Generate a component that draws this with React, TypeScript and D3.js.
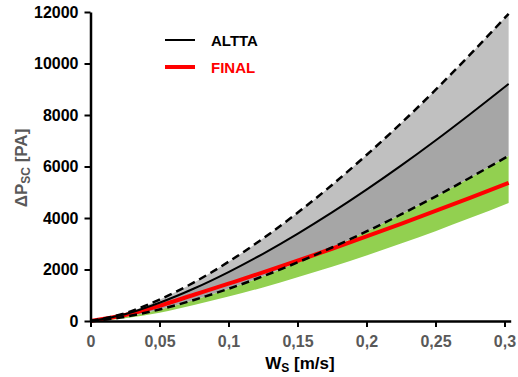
import { useEffect, useRef } from 'react';
import * as d3 from 'd3';

// superficial velocity [m/s]
const ws = [0, 0.025, 0.05, 0.075, 0.1, 0.125, 0.15, 0.175, 0.2, 0.225, 0.25, 0.275, 0.303];

// ALTTA band (upper dashed, mean, lower dashed) [PA]
const alttaUpper = [0, 300, 830, 1500, 2300, 3204, 4202, 5283, 6447, 7675, 8975, 10341, 11930];
const alttaMean = [0, 264, 708, 1261, 1900, 2611, 3386, 4218, 5102, 6034, 7011, 8032, 9210];
const alttaLower = [0, 162, 449, 818, 1250, 1737, 2274, 2855, 3477, 4137, 4834, 5564, 6420];

// FINAL line and lower edge of its band [PA]
const finalLine = [0, 230, 590, 1020, 1450, 1886, 2340, 2806, 3285, 3775, 4275, 4784, 5364];
const finalLow = [0, 110, 320, 620, 950, 1304, 1700, 2103, 2542, 3005, 3490, 3996, 4586];

const xTicks = [0, 0.05, 0.1, 0.15, 0.2, 0.25, 0.3];
const yTicks = [0, 2000, 4000, 6000, 8000, 10000, 12000];

export default function App() {
  const svgRef = useRef<SVGSVGElement>(null);

  useEffect(() => {
    document.body.style.margin = '0';
    if (!svgRef.current) return;
    const svg = d3.select(svgRef.current);
    svg.selectAll('*').remove();

    const font = '"Liberation Sans", Arial, sans-serif';
    const x = d3.scaleLinear().domain([0, 0.3045]).range([90.5, 510.7]);
    const y = d3.scaleLinear().domain([0, 12000]).range([321, 12]);

    const idx = d3.range(ws.length);
    const band = (lo: number[], hi: number[]) =>
      d3
        .area<number>()
        .x((i) => x(ws[i]))
        .y0((i) => y(lo[i]))
        .y1((i) => y(hi[i]))
        .curve(d3.curveMonotoneX)(idx);
    const line = (v: number[]) =>
      d3
        .line<number>()
        .x((i) => x(ws[i]))
        .y((i) => y(v[i]))
        .curve(d3.curveMonotoneX)(idx);

    // bands
    svg.append('path').attr('d', band(finalLow, alttaLower)).attr('fill', '#92d050');
    svg.append('path').attr('d', band(alttaMean, alttaUpper)).attr('fill', '#c0c0c0');
    svg.append('path').attr('d', band(alttaLower, alttaMean)).attr('fill', '#a6a6a6');

    // lines
    svg.append('path').attr('d', line(finalLine)).attr('fill', 'none')
      .attr('stroke', '#ff0000').attr('stroke-width', 4);
    [alttaUpper, alttaLower].forEach((s) => {
      svg.append('path').attr('d', line(s)).attr('fill', 'none')
        .attr('stroke', '#000').attr('stroke-width', 2.5).attr('stroke-dasharray', '8,5');
    });
    svg.append('path').attr('d', line(alttaMean)).attr('fill', 'none')
      .attr('stroke', '#000').attr('stroke-width', 2);

    // x axis
    const xa = svg.append('g').attr('transform', 'translate(0,321)')
      .call(d3.axisBottom(x).tickValues(xTicks).tickSize(6).tickSizeOuter(0)
        .tickFormat((d) => String(d).replace('.', ',')));
    xa.select('.domain').attr('stroke', '#000').attr('stroke-width', 2.5);
    xa.selectAll('.tick line').attr('stroke', '#000').attr('stroke-width', 2);
    xa.selectAll('text').attr('fill', '#595959').attr('font-size', 16)
      .attr('font-weight', 'bold').attr('font-family', font).attr('dy', '1.05em');

    // y axis
    const ya = svg.append('g').attr('transform', 'translate(90.5,0)')
      .call(d3.axisLeft(y).tickValues(yTicks).tickSize(6).tickSizeOuter(0)
        .tickFormat(d3.format('d')));
    ya.select('.domain').attr('stroke', '#000').attr('stroke-width', 2.5);
    ya.selectAll('.tick line').attr('stroke', '#000').attr('stroke-width', 2);
    ya.selectAll('text').attr('fill', '#000').attr('font-size', 16)
      .attr('font-weight', 'bold').attr('font-family', font).attr('x', -12);

    // axis titles
    const xt = svg.append('text').attr('x', 300).attr('y', 369).attr('text-anchor', 'middle')
      .attr('font-family', font).attr('font-weight', 'bold').attr('font-size', 17).attr('fill', '#000');
    xt.append('tspan').text('W');
    xt.append('tspan').attr('font-size', 12).attr('dy', 3).text('S');
    xt.append('tspan').attr('dy', -3).text(' [m/s]');

    const yt = svg.append('text').attr('transform', 'translate(27,168) rotate(-90)')
      .attr('text-anchor', 'middle').attr('font-family', font).attr('font-weight', 'bold')
      .attr('font-size', 17).attr('fill', '#595959');
    yt.append('tspan').text('ΔP');
    yt.append('tspan').attr('font-size', 12).attr('dy', 3).text('SC');
    yt.append('tspan').attr('dy', -3).text(' [PA]');

    // legend
    const legend = [
      { label: 'ALTTA', color: '#000', width: 2, yy: 40 },
      { label: 'FINAL', color: '#ff0000', width: 4, yy: 67 },
    ];
    legend.forEach((l) => {
      svg.append('line').attr('x1', 165).attr('x2', 195).attr('y1', l.yy).attr('y2', l.yy)
        .attr('stroke', l.color).attr('stroke-width', l.width);
      svg.append('text').attr('x', 211).attr('y', l.yy + 5.5).attr('font-family', font)
        .attr('font-weight', 'bold').attr('font-size', 15).attr('fill', l.color).text(l.label);
    });
  }, []);

  return <svg ref={svgRef} width={518} height={377} style={{ display: 'block' }} />;
}
